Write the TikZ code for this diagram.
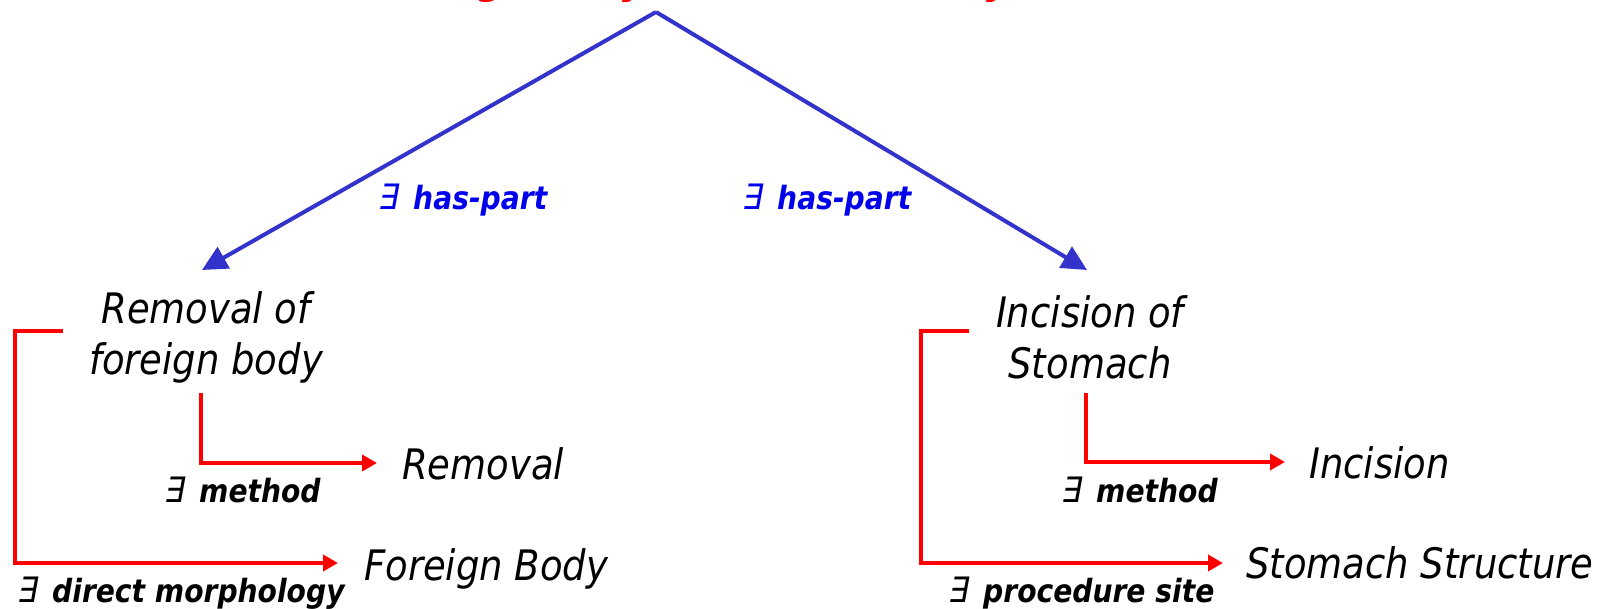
\documentclass[tikz,border=0pt]{standalone}
\usepackage{fontspec}
\setmainfont{DejaVu Sans}[FakeStretch=0.88]
\newfontfamily\exfont{DejaVu Sans}[FakeStretch=0.9, FakeSlant=0.18]
\usetikzlibrary{arrows.meta}
\definecolor{hpline}{RGB}{51,51,204}
\definecolor{hptext}{RGB}{0,0,235}
\definecolor{relred}{RGB}{255,0,0}
\newcommand{\exq}{\makebox[36pt][l]{\exfont\mdseries\upshape\fontsize{35pt}{35pt}\selectfont ∃}}
\tikzset{
  concept/.style={font=\fontsize{42pt}{51pt}\selectfont\itshape, inner sep=0pt, align=center},
  rellabel/.style={font=\fontsize{32pt}{38pt}\selectfont\bfseries\itshape, inner sep=0pt, anchor=base west},
  haspart/.style={draw=hpline, line width=4pt, -{Triangle[length=25pt,width=24pt]}},
  relarrow/.style={draw=relred, line width=4.5pt, miter limit=10, -{Triangle[length=15pt,width=16pt]}},
}
\begin{document}
\begin{tikzpicture}[x=1pt, y=-1pt]
\useasboundingbox (0,0) rectangle (1604,609);
\begin{scope}
\clip (0,0) rectangle (1604,609);
\node[font=\fontsize{42pt}{50pt}\selectfont\bfseries\itshape, text=relred, inner sep=0pt, anchor=base] (title) at (660,-6.5) {Removal of foreign body from stomach by incision};
\end{scope}
\coordinate (apex) at (656,12);

% concept nodes
\node[concept] (rfb) at (206,337) {Removal of\\foreign body};
\node[concept] (ios) at (1090,337) {Incision of\\Stomach};
\node[concept, anchor=base west] (rem) at (402,479) {Removal};
\node[concept, anchor=base west] (fb) at (364,580) {Foreign Body};
\node[concept, anchor=base west] (inc) at (1309,478) {Incision};
\node[concept, anchor=base west] (ss) at (1246,578) {Stomach Structure};

% relation labels
\node[rellabel, text=hptext] (hp1) at (377,210) {\exq has-part};
\node[rellabel, text=hptext] (hp2) at (741,210) {\exq has-part};
\node[rellabel] (m1) at (163,502) {\exq method};
\node[rellabel] (dm) at (16,602) {\exq direct morphology};
\node[rellabel] (m2) at (1060,502) {\exq method};
\node[rellabel] (ps) at (947,602) {\exq procedure site};

% has-part arrows
\coordinate (ltip) at (202,270);
\coordinate (rtip) at (1087,270);
\draw[haspart] (apex) -- (ltip);
\draw[haspart] (apex) -- (rtip);

% red relation arrows
\coordinate (rfbstub) at (63,331);
\coordinate (rfbdown) at (201,393);
\coordinate (iosstub) at (969,331);
\coordinate (iosdown) at (1086,393);
\draw[relarrow] (rfbdown) |- ([xshift=-25pt,yshift=16pt]rem.base west);
\draw[relarrow] (rfbstub) -- ++(-48,0) |- ([xshift=-26pt,yshift=17pt]fb.base west);
\draw[relarrow] (iosdown) |- ([xshift=-24pt,yshift=16pt]inc.base west);
\draw[relarrow] (iosstub) -- ++(-48,0) |- ([xshift=-23pt,yshift=15pt]ss.base west);
\end{tikzpicture}
\end{document}
